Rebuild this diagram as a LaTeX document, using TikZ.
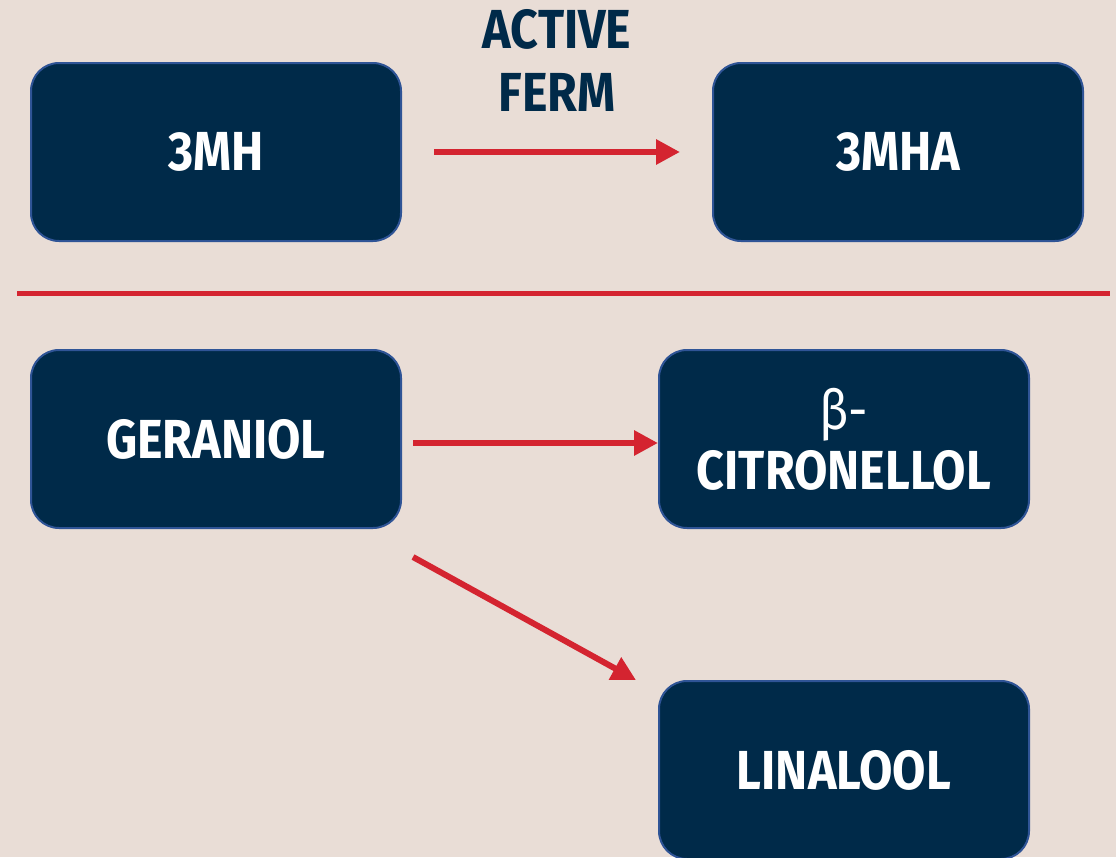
\documentclass[tikz,border=0pt]{standalone}
\usepackage{fontspec}
\setmainfont{Fira Sans}[FakeStretch=0.88]
\definecolor{mybg}{RGB}{233,221,214}
\definecolor{mynavy}{RGB}{0,42,73}
\definecolor{myedge}{RGB}{47,84,150}
\definecolor{myred}{RGB}{212,36,48}
\usetikzlibrary{positioning,arrows.meta}

\begin{document}
\begin{tikzpicture}[x=1pt,y=-1pt,
    box/.style={draw=myedge,line width=2pt,fill=mynavy,rounded corners=28pt,
          minimum width=370pt,minimum height=178pt,text=white,align=center,
          font=\fontsize{55}{60}\selectfont\bfseries},
    arr/.style={-{Triangle[length=24pt,width=24pt]},myred,line width=6pt}]
    \fill[mybg] (0,0) rectangle (1116,857);
    \clip (0,0) rectangle (1116,857);
    % top row
    \node[box](mh) at (216,152){3MH};
    \node[box,right=310pt of mh](mha){3MHA};
    \node[text=mynavy,align=center,font=\fontsize{55}{63}\selectfont\bfseries]
          (ferm) at (557,60){ACTIVE\\FERM};
    \draw[arr,shorten <=32pt,shorten >=32pt](mh)--(mha);
    % divider
    \coordinate (divl) at (17,293);
    \coordinate (divr) at (1110,293);
    \draw[myred,line width=5pt](divl)--(divr);
    % bottom part
    \node[box,below=107pt of mh](ger){GERANIOL};
    \node[box,right=256pt of ger](cit){{\mdseries β-}\\CITRONELLOL};
    \node[box,below=151pt of cit](lin){LINALOOL};
    \draw[arr,shorten <=11pt]([shift={(0,4)}]ger.east)--([shift={(0,4)}]cit.west);
    \draw[arr]([shift={(11,28)}]ger.south east)--([shift={(-22,0)}]lin.north west);
  \end{tikzpicture}
\end{document}
